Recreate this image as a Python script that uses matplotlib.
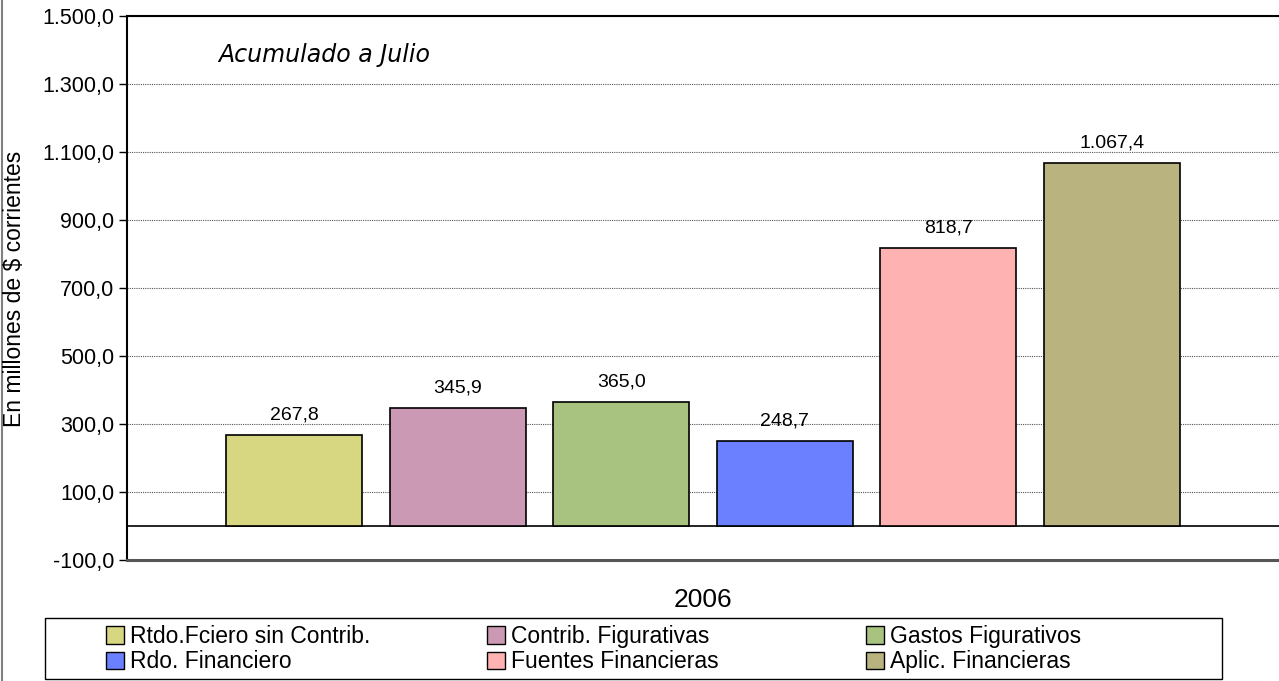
import matplotlib
matplotlib.use("Agg")
import matplotlib.pyplot as plt
from matplotlib.lines import Line2D
from matplotlib.patches import Patch, Rectangle
from matplotlib.ticker import FuncFormatter
import numpy as np

plt.rcParams['font.family'] = ['Liberation Sans', 'DejaVu Sans']

# Datos
categorias = ["Rtdo.Fciero sin Contrib.", "Contrib. Figurativas", "Gastos Figurativos",
              "Rdo. Financiero", "Fuentes Financieras", "Aplic. Financieras"]
valores = [267.8, 345.9, 365.0, 248.7, 818.7, 1067.4]
colores = ["#D7D782", "#CC99B4", "#A7C37F", "#6A80FF", "#FFB2B2", "#B9B47F"]
anio = "2006"


def fmt_es(v, decimales=1):
    s = f"{v:,.{decimales}f}"
    return s.replace(",", "X").replace(".", ",").replace("X", ".")


W, H = 1279, 681
fig = plt.figure(figsize=(W / 100, H / 100), dpi=100)
ax = fig.add_axes([127 / W, 121 / H, (W - 127) / W, (560 - 16) / H])

x = np.arange(len(valores))
ax.bar(x, valores, width=0.832, color=colores, edgecolor="black", linewidth=1.2, zorder=3)

# Etiquetas de valores sobre las barras
for xi, v in zip(x, valores):
    ax.annotate(fmt_es(v), (xi, v), xytext=(0, 20), textcoords="offset pixels",
                ha="center", va="center", fontsize=14, zorder=4)

ax.set_xlim(-1.023, 6.023)
ax.set_ylim(-100, 1500)
ax.set_yticks(np.arange(-100, 1501, 200))
ax.yaxis.set_major_formatter(FuncFormatter(lambda v, p: fmt_es(v)))
ax.tick_params(axis="y", labelsize=15.5, length=6, width=1, direction="out", pad=3)
ax.set_xticks([])

ax.grid(axis="y", linestyle=(0, (1, 1)), color="#555555", linewidth=0.8, zorder=0)
ax.axhline(0, color="black", linewidth=1.2, zorder=2)

ax.spines["right"].set_visible(False)
ax.spines["left"].set_linewidth(1.5)
ax.spines["top"].set_linewidth(1.5)
ax.spines["bottom"].set_linewidth(2.2)
ax.spines["bottom"].set_color("#555555")

fig.text(15 / W, (H - 289) / H, "En millones de $ corrientes", rotation=90,
         ha="center", va="center", fontsize=16.5)

fig.text(218 / W, (H - 55) / H, "Acumulado a Julio", fontsize=17, style="italic",
         family=["DejaVu Sans"], va="center", ha="left")

fig.text(703 / W, (H - 600) / H, anio, ha="center", va="center", fontsize=19)

# Leyenda: marco y tres columnas de igual ancho
fig.add_artist(Rectangle((45 / W, (H - 679) / H), (1222 - 45) / W, 61 / H,
                         transform=fig.transFigure, fill=False, edgecolor="black", linewidth=1.0))
handles = [Patch(facecolor=c, edgecolor="black", linewidth=1) for c in colores]
columnas_x = [106, 487, 866]
for col, cx in enumerate(columnas_x):
    idx = [col, col + 3]
    fig.legend([handles[i] for i in idx], [categorias[i] for i in idx],
               loc="upper left", bbox_to_anchor=(cx / W, (H - 625) / H),
               fontsize=16.5, frameon=False, handlelength=0.8, handleheight=0.8,
               handletextpad=0.25, borderpad=0, labelspacing=0.1, borderaxespad=0)

# Borde izquierdo del gráfico
fig.add_artist(Line2D([2 / W, 2 / W], [0, 1], transform=fig.transFigure, color="#808080", linewidth=1.5))

fig.savefig("out.png", dpi=100)
